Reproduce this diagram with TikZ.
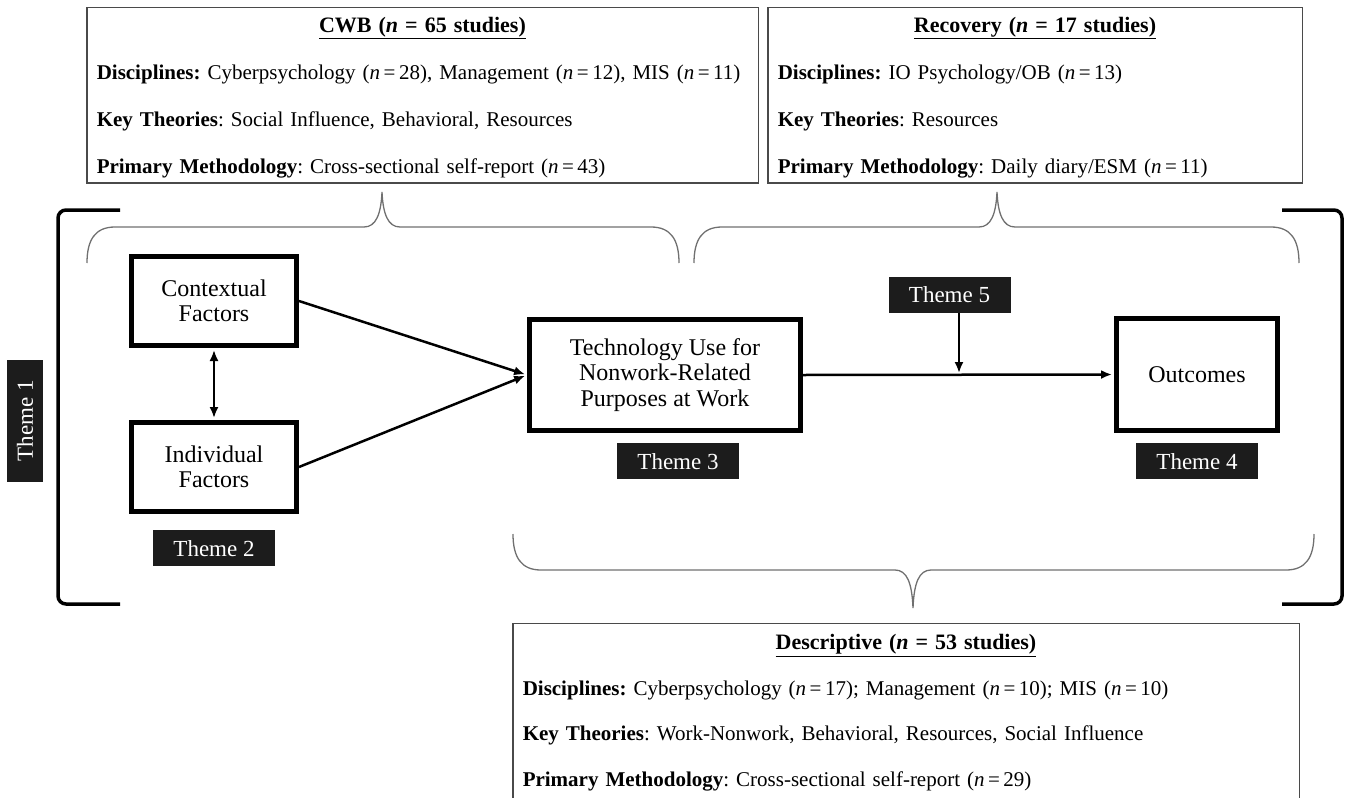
\documentclass[tikz,border=0pt]{standalone}
\usepackage{fontspec}
\setmainfont{Liberation Serif}
\usetikzlibrary{positioning,arrows.meta}
\definecolor{themefill}{HTML}{1C1C1C}
\definecolor{bracegray}{HTML}{707070}
\definecolor{boxline}{HTML}{4A4A4A}
\frenchspacing
\newcommand{\boxtitle}[1]{\makebox[\linewidth]{\fontsize{22}{23}\selectfont\rule{0pt}{19.5pt}\underline{\textbf{#1}}}}

\begin{document}
\begin{tikzpicture}[x=1pt,y=-1pt,>={Latex[length=11pt,width=9pt]},
  main node/.style={rectangle,draw,line width=5pt,align=center,font=\fontsize{24}{25.5}\selectfont},
  theme node/.style={rectangle,fill=themefill,text=white,minimum width=122pt,minimum height=36pt,inner sep=0pt,font=\fontsize{23}{26}\selectfont},
  study box/.style={rectangle,draw=boxline,line width=1.5pt,align=left,anchor=north,inner xsep=10pt,inner ysep=0pt,font=\fontsize{21}{23}\selectfont},
  link/.style={line width=2.5pt,shorten >=2pt},
  curly/.style={draw=bracegray,line width=1.3pt},
  bracket/.style={line width=3.5pt,rounded corners=8pt}]

  \useasboundingbox (0,0) rectangle (1347,798);

  % summary boxes
  \node[study box,text width=651.5pt,minimum height=175.5pt] (b1) at (422.5,6.75)
    {\boxtitle{CWB (\textit{n} = 65 studies)}\\[24pt]
     \mbox{\textbf{Disciplines:} Cyberpsychology (\textit{n}\,=\,28), Management (\textit{n}\,=\,12), MIS (\textit{n}\,=\,11)}\\[24pt]
     \textbf{Key Theories}: Social Influence, Behavioral, Resources\\[24pt]
     \textbf{Primary Methodology}: Cross-sectional self-report (\textit{n}\,=\,43)};
  \node[study box,text width=514.5pt,minimum height=175.5pt] (b2) at (1035,6.75)
    {\boxtitle{Recovery (\textit{n} = 17 studies)}\\[24pt]
     \textbf{Disciplines:} IO Psychology/OB (\textit{n}\,=\,13)\\[24pt]
     \textbf{Key Theories}: Resources\\[24pt]
     \textbf{Primary Methodology}: Daily diary/ESM (\textit{n}\,=\,11)};
  \node[study box,text width=766.5pt,minimum height=180pt] (b3) at (906,622.75)
    {\boxtitle{Descriptive (\textit{n} = 53 studies)}\\[22.5pt]
     \textbf{Disciplines:} Cyberpsychology (\textit{n}\,=\,17); Management (\textit{n}\,=\,10); MIS (\textit{n}\,=\,10)\\[22.5pt]
     \textbf{Key Theories}: Work-Nonwork, Behavioral, Resources, Social Influence\\[22.5pt]
     \textbf{Primary Methodology}: Cross-sectional self-report (\textit{n}\,=\,29)\rule[-10.5pt]{0pt}{1pt}};

  % model
  \node[main node,minimum width=165pt,minimum height=89pt] (1) at (214,301) {Contextual\\Factors};
  \node[main node,minimum width=165pt,minimum height=89pt] (2) at (214,467) {Individual\\Factors};
  \node[main node,minimum width=271pt,minimum height=111pt] (3) at (665,375) {Technology Use for\\Nonwork-Related\\Purposes at Work};
  \node[main node,minimum width=161pt,minimum height=112pt] (4) at (1197,374.5) {Outcomes};

  \node[theme node,rotate=90] (t1) at (25,420.5) {Theme 1};
  \node[theme node] (t2) [below=16pt of 2] {Theme 2};
  \node[theme node] (t3) [below=10pt of 3,xshift=13pt] {Theme 3};
  \node[theme node] (t4) [below=10pt of 4] {Theme 4};
  \node[theme node] (t5) at (949.5,294.5) {Theme 5};
  \coordinate (m) at (959,375);

  \path[->,link]
    (1.east) edge (3.west)
    (2.east) edge (3.west)
    (3.east) edge (4.west);
  \path[<->,link,line width=2pt,shorten <=2pt] (1.south) edge (2.north);
  \draw[->,link,line width=2pt] (t5.south -| m) -- (m);

  % braces
  \draw[curly] (87,263) .. controls (87,240) and (95,227) .. (115,227) -- (364,227)
    .. controls (376,227) and (381,214) .. (382,192) .. controls (383,214) and (388,227) .. (400,227)
    -- (651,227) .. controls (671,227) and (679,240) .. (679,263);
  \draw[curly] (694,263) .. controls (694,240) and (702,227) .. (722,227) -- (979,227)
    .. controls (991,227) and (996,214) .. (997,192) .. controls (998,214) and (1003,227) .. (1015,227)
    -- (1271,227) .. controls (1291,227) and (1299,240) .. (1299,263);
  \draw[curly] (513,534) .. controls (513,557) and (521,570) .. (541,570) -- (895,570)
    .. controls (907,570) and (912,583) .. (913,608) .. controls (914,583) and (919,570) .. (931,570)
    -- (1286,570) .. controls (1306,570) and (1314,557) .. (1314,534);

  \draw[bracket] (120,210) -| (58,604) -- (120,604);
  \draw[bracket] (1282,210) -| (1342,604) -- (1282,604);
\end{tikzpicture}
\end{document}
